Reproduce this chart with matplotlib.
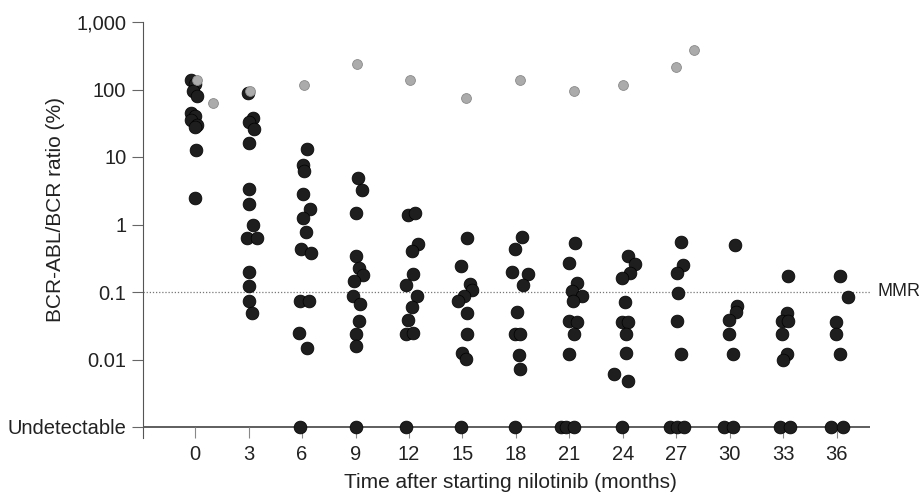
import matplotlib.pyplot as plt
from matplotlib.ticker import NullLocator
from matplotlib.transforms import blended_transform_factory

plt.rcParams['font.family'] = ['Liberation Sans', 'DejaVu Sans']

# value used to place the "Undetectable" row on the log axis
UNDETECTABLE = 0.001

month_ticks = [0, 3, 6, 9, 12, 15, 18, 21, 24, 27, 30, 33, 36]
ytick_values = [0.001, 0.01, 0.1, 1, 10, 100, 1000]
ytick_labels = ['Undetectable', '0.01', '0.1', '1', '10', '100', '1,000']
mmr_level = 0.1

# detectable BCR-ABL/BCR ratios (%), time in months (slightly spread as in the figure)
black_t = [
    -0.2, 0.0, -0.1, 0.1, -0.2, 0.0, -0.2, 0.1, 0.0, 0.05, 0.0,              # 0
    2.95, 3.25, 3.0, 3.3, 3.0, 3.0, 3.0, 3.25, 2.9, 3.5, 3.0, 3.0, 3.0, 3.2,  # 3
    6.3, 6.05, 6.1, 6.05, 6.45, 6.05, 6.2, 5.95, 6.5, 5.9, 6.4, 5.85, 6.3,    # 6
    9.15, 9.35, 9.0, 9.0, 9.2, 9.4, 8.9, 8.85, 9.25, 9.2, 9.0, 9.0,           # 9
    11.95, 12.35, 12.5, 12.15, 12.25, 11.85, 12.45, 12.15, 11.95, 11.85, 12.25,  # 12
    15.25, 14.9, 15.4, 15.55, 15.1, 14.75, 15.25, 15.25, 15.0, 15.2,          # 15
    18.35, 17.95, 17.8, 18.65, 18.4, 18.05, 17.95, 18.2, 18.15, 18.2,         # 18
    21.3, 21.0, 21.4, 21.15, 21.7, 21.2, 20.95, 21.45, 21.25, 21.0,           # 21
    24.3, 24.65, 24.4, 23.95, 24.1, 23.95, 24.3, 24.2, 24.2, 23.5, 24.3,      # 24
    27.25, 27.35, 27.05, 27.1, 27.05, 27.25,                                  # 27
    30.3, 30.4, 30.35, 29.95, 29.95, 30.2,                                    # 30
    33.25, 33.2, 32.95, 33.25, 32.9, 33.2, 33.0,                              # 33
    36.2, 36.65, 35.95, 35.95, 36.15,                                         # 36
]
black_v = [
    140, 120, 95, 80, 45, 40, 35, 30, 28, 12.5, 2.5,
    90, 38, 33, 26, 16, 3.4, 2.0, 0.98, 0.63, 0.63, 0.2, 0.123, 0.074, 0.049,
    13, 7.6, 6.3, 2.8, 1.7, 1.25, 0.77, 0.43, 0.38, 0.074, 0.074, 0.025, 0.015,
    4.9, 3.2, 1.48, 0.34, 0.227, 0.18, 0.146, 0.087, 0.066, 0.037, 0.024, 0.016,
    1.4, 1.5, 0.52, 0.4, 0.185, 0.127, 0.087, 0.06, 0.038, 0.024, 0.025,
    0.63, 0.24, 0.13, 0.107, 0.087, 0.074, 0.049, 0.024, 0.0125, 0.0101,
    0.65, 0.43, 0.2, 0.185, 0.127, 0.05, 0.024, 0.024, 0.0117, 0.0072,
    0.53, 0.27, 0.136, 0.103, 0.087, 0.074, 0.037, 0.036, 0.024, 0.012,
    0.34, 0.26, 0.19, 0.16, 0.072, 0.036, 0.036, 0.024, 0.0125, 0.0061, 0.0048,
    0.55, 0.25, 0.19, 0.097, 0.037, 0.012,
    0.5, 0.063, 0.05, 0.038, 0.024, 0.012,
    0.17, 0.049, 0.037, 0.037, 0.024, 0.012, 0.0098,
    0.17, 0.084, 0.036, 0.024, 0.012,
]

# patients with undetectable transcripts
undetectable_t = [
    5.9, 9.0, 11.85, 14.9, 17.95,
    20.5, 20.8, 21.25, 23.95,
    26.65, 27.05, 27.45, 29.65, 30.2,
    32.8, 33.35, 35.7, 36.35,
]

# light grey points
gray_t = [0.1, 1.0, 3.1, 6.1, 9.1, 12.05, 15.2, 18.2, 21.25, 24.0, 27.0, 28.0]
gray_v = [140, 63, 96, 117, 240, 137, 76, 137, 96, 115, 215, 380]

fig = plt.figure(figsize=(9.2, 5.0), dpi=100)
ax = fig.add_axes([143 / 920, 1 - 438 / 500, (870 - 143) / 920, (438 - 22) / 500])
ax.set_yscale('log')
ax.set_ylim(10 ** (-3 - 11 / 67.5), 1000)
ax.set_xlim(-2.92, 37.86)

ax.axhline(mmr_level, color='#777777', lw=0.9, ls=(0, (1, 1.5)), zorder=1)
ax.axhline(UNDETECTABLE, color='#333333', lw=1.1, zorder=1)

ax.scatter(black_t, black_v, s=85, c='#1e1e1e', edgecolors='#000000',
           linewidths=0.5, zorder=3)
ax.scatter(undetectable_t, [UNDETECTABLE] * len(undetectable_t), s=85,
           c='#1e1e1e', edgecolors='#000000', linewidths=0.5, zorder=3)
ax.scatter(gray_t, gray_v, s=50, c='#ababab', edgecolors='#8a8a8a',
           linewidths=0.6, zorder=4)

ax.set_yticks(ytick_values, ytick_labels)
ax.yaxis.set_minor_locator(NullLocator())
ax.set_xticks(month_ticks, [str(m) for m in month_ticks])

ax.tick_params(axis='y', length=8, width=0.8, color='#666666', pad=4,
               labelsize=14.5, labelcolor='#222222')
ax.tick_params(axis='x', direction='in', length=8, width=0.8, color='#888888',
               pad=5, labelsize=14.5, labelcolor='#222222')

for side in ['top', 'right', 'bottom']:
    ax.spines[side].set_visible(False)
ax.spines['left'].set_color('#555555')
ax.spines['left'].set_linewidth(0.8)

trans = blended_transform_factory(ax.transAxes, ax.transData)
ax.text(1.011, mmr_level, 'MMR', transform=trans, ha='left', va='center',
        fontsize=13, color='#222222')

fig.text(56 / 920, 1 - 210 / 500, 'BCR-ABL/BCR ratio (%)', rotation=90,
         ha='center', va='center', fontsize=15, color='#222222')
fig.text(510 / 920, 1 - 482 / 500, 'Time after starting nilotinib (months)',
         ha='center', va='center', fontsize=15, color='#222222')

fig.savefig('out.png', dpi=100)
plt.close(fig)
